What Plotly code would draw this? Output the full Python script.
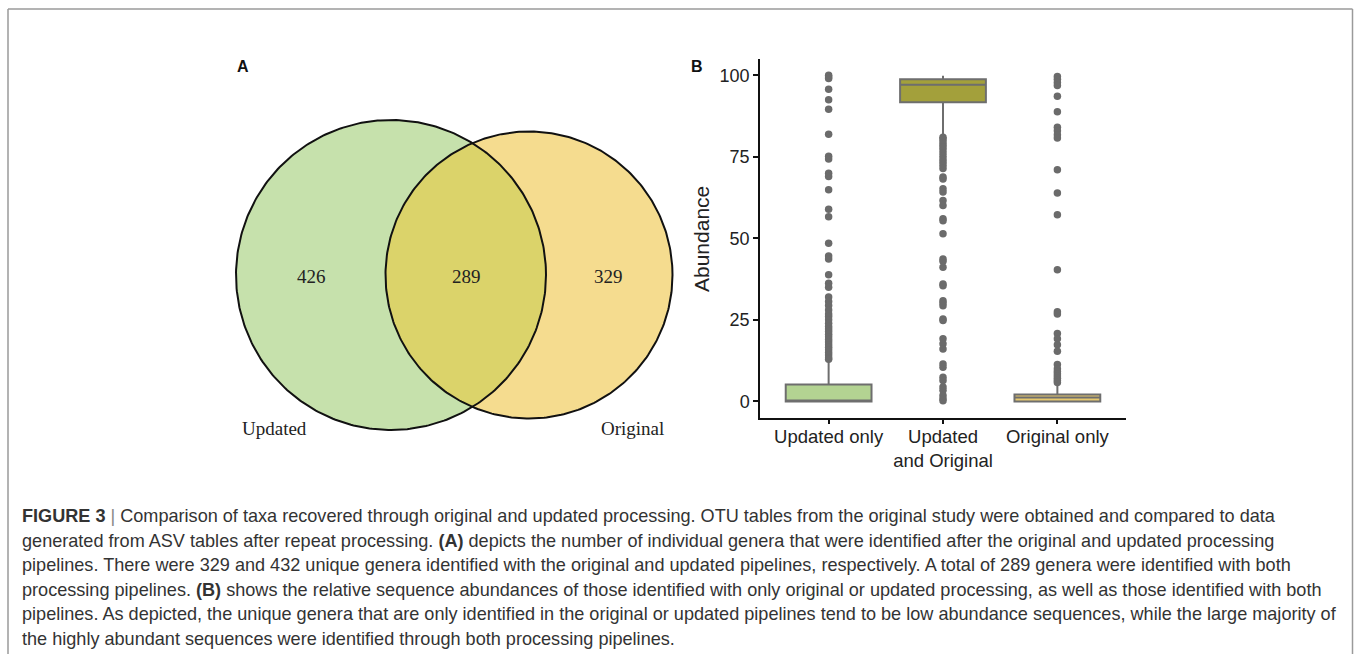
import numpy as np
import plotly.graph_objects as go

W, H = 1354, 654

# ---- Panel A: Venn counts ----
venn_labels = ["Updated", "Original"]
venn_counts = [426, 289, 329]  # updated only, shared, original only

# ---- Panel B: abundance distributions ----
categories = ["Updated only", "Updated<br>and Original", "Original only"]
box_q1 = [0.0, 91.7, 0.0]
box_median = [0.1, 97.1, 1.2]
box_q3 = [5.2, 98.8, 2.1]
box_lower = [0.0, 81.6, 0.0]
box_upper = [12.7, 99.9, 5.4]
box_fill = ["#b3d392", "#a3a03b", "#e6c86e"]

outliers_updated_only = [100.0, 99.5, 99.0, 95.7, 92.5, 89.6, 81.9, 75.2, 74.3, 70.0,
                         69.0, 64.9, 58.9, 56.6, 48.5, 44.6, 43.7, 38.8, 36.2, 35.0,
                         32.0, 30.6, 29.4, 28.0, 26.8, 26.0, 25.0, 24.0, 23.0, 22.2,
                         21.4, 20.6, 19.8, 19.0, 18.2, 17.4, 16.6, 15.8, 15.0, 14.2,
                         13.4, 12.9]
outliers_both = [81.0, 80.5, 79.6, 78.8, 78.0, 77.2, 76.2, 75.2, 74.2, 73.3, 72.4,
                 71.4, 68.8, 68.2, 65.2, 64.2, 61.6, 60.1, 56.0, 55.4, 51.4, 43.7,
                 43.0, 41.1, 36.0, 35.5, 30.9, 30.2, 29.3, 25.3, 24.8, 19.2, 17.7,
                 16.1, 11.5, 10.5, 7.4, 6.4, 4.4, 3.4, 1.8, 0.8, 0.2]
outliers_original_only = [99.6, 98.8, 97.8, 96.9, 93.6, 88.8, 84.1, 83.0, 81.8, 80.8,
                          71.0, 63.9, 57.2, 40.4, 27.5, 26.8, 20.8, 19.2, 17.4, 15.4,
                          11.3, 10.0, 9.2, 8.5, 7.8, 7.1, 6.4, 5.8]
outlier_sets = [outliers_updated_only, outliers_both, outliers_original_only]

caption_lines = [
    "<b>FIGURE 3</b> <span style='color:#888'>|</span> Comparison of taxa recovered through original and updated processing. OTU tables from the original study were obtained and compared to data",
    "generated from ASV tables after repeat processing. <b>(A)</b> depicts the number of individual genera that were identified after the original and updated processing",
    "pipelines. There were 329 and 432 unique genera identified with the original and updated pipelines, respectively. A total of 289 genera were identified with both",
    "processing pipelines. <b>(B)</b> shows the relative sequence abundances of those identified with only original or updated processing, as well as those identified with both",
    "pipelines. As depicted, the unique genera that are only identified in the original or updated pipelines tend to be low abundance sequences, while the large majority of",
    "the highly abundant sequences were identified through both processing pipelines.",
]

fig = go.Figure()

# ---- Venn diagram drawn on a page-pixel axis pair (x2/y2) ----
c1 = (391.0, 275.0, 155.0)
c2 = (529.0, 275.0, 143.5)
t = np.linspace(0, 2 * np.pi, 361)


def circle_pts(c):
    return c[0] + c[2] * np.cos(t), c[1] + c[2] * np.sin(t)


def lens_pts(a, b):
    # intersection region of two circles
    d = b[0] - a[0]
    xi = (d * d + a[2] ** 2 - b[2] ** 2) / (2 * d)
    yi = np.sqrt(a[2] ** 2 - xi ** 2)
    ang_a = np.arctan2(yi, xi)
    ang_b = np.arctan2(yi, xi - d)
    ta = np.linspace(-ang_a, ang_a, 120)
    tb = np.linspace(ang_b, 2 * np.pi - ang_b, 120)
    xs = np.concatenate([a[0] + a[2] * np.cos(ta), b[0] + b[2] * np.cos(tb)])
    ys = np.concatenate([a[1] + a[2] * np.sin(ta), b[1] + b[2] * np.sin(tb)])
    return xs, ys


for c, col in [(c1, "#c6e1ac"), (c2, "#f5dc8f")]:
    xs, ys = circle_pts(c)
    fig.add_trace(go.Scatter(x=xs, y=ys, fill="toself", fillcolor=col, mode="lines",
                             line=dict(width=0), xaxis="x2", yaxis="y2",
                             hoverinfo="skip", showlegend=False))
lx, ly = lens_pts(c1, c2)
fig.add_trace(go.Scatter(x=lx, y=ly, fill="toself", fillcolor="#dbd36a", mode="lines",
                         line=dict(width=0), xaxis="x2", yaxis="y2",
                         hoverinfo="skip", showlegend=False))
for c in (c1, c2):
    xs, ys = circle_pts(c)
    fig.add_trace(go.Scatter(x=xs, y=ys, mode="lines", line=dict(color="#111111", width=2),
                             xaxis="x2", yaxis="y2", hoverinfo="skip", showlegend=False))

serif = dict(family="Liberation Serif, Times New Roman, serif", size=19, color="#222222")
for xpos, n in zip([311, 466, 608], venn_counts):
    fig.add_annotation(x=xpos, y=276, xref="x2", yref="y2", text=str(n),
                       showarrow=False, font=serif)
fig.add_annotation(x=240, y=428, xref="x2", yref="y2", text=venn_labels[0],
                   showarrow=False, font=serif, xanchor="left")
fig.add_annotation(x=666, y=428, xref="x2", yref="y2", text=venn_labels[1],
                   showarrow=False, font=serif, xanchor="right")

# ---- Box plots ----
for i, cat in enumerate(categories):
    fig.add_trace(go.Box(
        x=[cat], q1=[box_q1[i]], median=[box_median[i]], q3=[box_q3[i]],
        lowerfence=[box_lower[i]], upperfence=[box_upper[i]],
        fillcolor=box_fill[i], line=dict(color="#6e6e6e", width=2),
        width=0.75, whiskerwidth=0, boxpoints=False, showlegend=False,
        xaxis="x", yaxis="y"))
    fig.add_trace(go.Scatter(
        x=[cat] * len(outlier_sets[i]), y=outlier_sets[i], mode="markers",
        marker=dict(color="#6b6b6b", size=7.5), showlegend=False,
        xaxis="x", yaxis="y"))

sans = "Liberation Sans, Arial, sans-serif"
fig.update_layout(
    width=W, height=H, margin=dict(l=0, r=0, t=0, b=0),
    paper_bgcolor="white", plot_bgcolor="rgba(0,0,0,0)",
    boxmode="overlay",
    xaxis=dict(domain=[760 / W, 1126 / W], type="category",
               categoryorder="array", categoryarray=categories,
               range=[-0.6, 2.6], showline=True, linecolor="#111111", linewidth=1.5,
               ticks="outside", ticklen=5, tickwidth=1.5, tickcolor="#111111",
               ticklabelstandoff=-4,
               tickfont=dict(family=sans, size=18.5, color="#222222"),
               showgrid=False, zeroline=False),
    yaxis=dict(domain=[1 - 417.7 / H, 1 - 59 / H], range=[-5, 105],
               tickvals=[0, 25, 50, 75, 100], showline=True, linecolor="#111111",
               linewidth=1.5, ticks="outside", ticklen=5, tickwidth=1.5,
               tickcolor="#111111",
               tickfont=dict(family=sans, size=18, color="#222222"),
               showgrid=False, zeroline=False),
    xaxis2=dict(domain=[0, 1], range=[0, W], visible=False, fixedrange=True),
    yaxis2=dict(domain=[0, 1], range=[H, 0], visible=False, fixedrange=True),
)

# Axis title and panel letters
fig.add_annotation(x=701 / W, y=1 - 239 / H, xref="paper", yref="paper",
                   xanchor="center", yanchor="middle",
                   text="Abundance", textangle=-90, showarrow=False,
                   font=dict(family=sans, size=21, color="#222222"))
for letter, px, py in [("A", 243, 66), ("B", 697, 66)]:
    fig.add_annotation(x=px / W, y=1 - py / H, xref="paper", yref="paper",
                       xanchor="center", yanchor="middle",
                       text=f"<b>{letter}</b>", showarrow=False,
                       font=dict(family=sans, size=16, color="#111111"))

# Caption
for k, line in enumerate(caption_lines):
    fig.add_annotation(x=20 / W, y=1 - (516 + 24.5 * k) / H, xref="paper", yref="paper",
                       text=line, showarrow=False, xanchor="left", yanchor="middle",
                       font=dict(family=sans, size=18.1, color="#333333"))

# Figure frame (top, left, right edges)
frame = dict(color="#9a9a9a", width=1.5)
fig.add_shape(type="line", xref="paper", yref="paper", x0=8 / W, x1=1352.5 / W,
              y0=1 - 9 / H, y1=1 - 9 / H, line=frame)
fig.add_shape(type="line", xref="paper", yref="paper", x0=8 / W, x1=8 / W,
              y0=1 - 9 / H, y1=0, line=frame)
fig.add_shape(type="line", xref="paper", yref="paper", x0=1352.5 / W, x1=1352.5 / W,
              y0=1 - 9 / H, y1=0, line=frame)

fig.write_html("out.html")
